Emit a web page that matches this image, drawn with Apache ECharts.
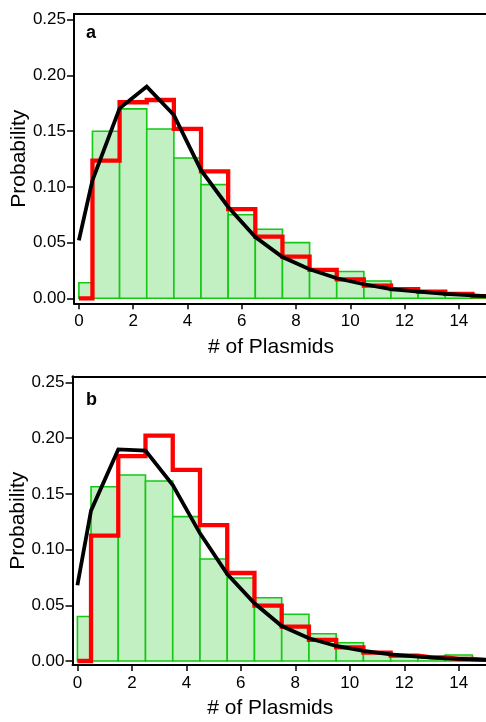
<!DOCTYPE html>
<html>
<head>
<meta charset="utf-8">
<script src="https://cdn.jsdelivr.net/npm/echarts@6/dist/echarts.min.js"></script>
<style>html,body{margin:0;padding:0;background:#fff}#c{width:486px;height:722px}</style>
</head>
<body>
<div id="c"></div>
<script>
// ---- data ----
const bins = [0,1,2,3,4,5,6,7,8,9,10,11,12,13,14,15];
const xTicks = [0,2,4,6,8,10,12,14];
const yTicks = [0,0.05,0.10,0.15,0.20,0.25];
const blackX = [0,0.5,1.5,2.5,3.5,4.5,5.5,6.5,7.5,8.5,9.5,10.5,11.5,12.5,13.5,14.5,15];

const greenA = [0.014,0.150,0.170,0.152,0.126,0.102,0.075,0.062,0.050,0.025,0.024,0.0155,0.0085,0.006,0.0038,0.002];
const redA   = [0,0.1235,0.176,0.178,0.152,0.114,0.080,0.0553,0.0374,0.0255,0.017,0.0113,0.0083,0.006,0.0039,0.002];
const blackA = [0.052,0.106,0.1705,0.190,0.1645,0.115,0.082,0.055,0.037,0.026,0.018,0.0126,0.0083,0.006,0.004,0.0027,0.002];

const greenB = [0.040,0.1565,0.167,0.1616,0.1296,0.0916,0.0745,0.0568,0.0419,0.0245,0.0164,0.008,0.004,0.003,0.0054,0.001];
const redB   = [0,0.1125,0.184,0.2023,0.1715,0.122,0.079,0.0497,0.0308,0.0189,0.0123,0.0075,0.0048,0.0033,0.0018,0.001];
const blackB = [0.068,0.135,0.190,0.1889,0.158,0.1146,0.078,0.0518,0.0314,0.0204,0.0135,0.009,0.006,0.004,0.0024,0.0015,0.001];

const panelLabels = ['a','b'];
const xName = '# of Plasmids';
const yName = 'Probability';

// ---- chart ----
const FONT = 'Liberation Sans, Arial, Helvetica, sans-serif';
const chart = echarts.init(document.getElementById('c'), null, {renderer:'canvas'});

const grids = [
  {left:74, top:14, right:0, height:289.3, outerBoundsMode:'none', containLabel:false},
  {left:72.5, top:376.3, right:0, height:288.7, outerBoundsMode:'none', containLabel:false}
];
const yRanges = [[-0.0045,0.2552],[-0.0036,0.2556]];

const xAxes = [], yAxes = [], series = [];
grids.forEach((g, i) => {
  xAxes.push({
    type:'value', gridIndex:i, position:'bottom', min:-0.18, max:15,
    axisLine:{show:true, onZero:false, lineStyle:{color:'#000', width:2}},
    axisTick:{show:true, customValues:xTicks, length:6, lineStyle:{color:'#000', width:1.5}},
    axisLabel:{show:true, customValues:xTicks, fontSize:17, color:'#000', fontFamily:FONT, margin:10},
    splitLine:{show:false},
    name:xName, nameLocation:'middle', nameGap:33, nameMoveOverlap:false,
    nameTextStyle:{fontSize:21, color:'#000', fontFamily:FONT, padding:[0,18,0,0]}
  });
  xAxes.push({
    type:'value', gridIndex:i, position:'top', min:-0.18, max:15,
    axisLine:{show:true, onZero:false, lineStyle:{color:'#000', width:2}},
    axisTick:{show:false}, axisLabel:{show:false}, splitLine:{show:false}
  });
  yAxes.push({
    type:'value', gridIndex:i, position:'left', min:yRanges[i][0], max:yRanges[i][1],
    axisLine:{show:true, onZero:false, lineStyle:{color:'#000', width:2}},
    axisTick:{show:true, customValues:yTicks, length:7, lineStyle:{color:'#000', width:1.5}},
    axisLabel:{show:true, customValues:yTicks, fontSize:17, color:'#000', fontFamily:FONT, margin:8,
      formatter:v => v.toFixed(2)},
    splitLine:{show:false},
    name:yName, nameLocation:'middle', nameGap:44, nameMoveOverlap:false,
    nameTextStyle:{fontSize:21, color:'#000', fontFamily:FONT}
  });
});

function histSeries(vals, gi){
  return {
    type:'custom', xAxisIndex:gi*2, yAxisIndex:gi,
    data: bins.map((b,k)=>[b, vals[k]]),
    encode:{x:0, y:1},
    renderItem:(params, api) => {
      const x = api.value(0), v = api.value(1);
      const l = x === 0 ? 0 : x - 0.5;
      const p1 = api.coord([l, v]);
      const p2 = api.coord([x + 0.5, 0]);
      const cs = params.coordSys;
      const shape = echarts.graphic.clipRectByRect(
        {x:p1[0], y:p1[1], width:p2[0]-p1[0], height:p2[1]-p1[1]},
        {x:cs.x, y:cs.y, width:cs.width, height:cs.height});
      if (!shape) return;
      return {type:'rect', shape:shape, style:{fill:'#c3f0c3', stroke:'#14c814', lineWidth:1.6}};
    },
    z:1, silent:true
  };
}
function redSeries(vals, gi){
  return {
    type:'line', xAxisIndex:gi*2, yAxisIndex:gi, step:'middle', symbol:'none',
    data: bins.map((b,k)=>[b, vals[k]]),
    lineStyle:{color:'#ff0000', width:4.3, join:'miter', cap:'butt'},
    z:2, silent:true
  };
}
function blackSeries(vals, gi){
  return {
    type:'line', xAxisIndex:gi*2, yAxisIndex:gi, symbol:'none',
    data: blackX.map((x,k)=>[x, vals[k]]),
    lineStyle:{color:'#000', width:3.8, join:'miter'},
    z:3, silent:true
  };
}

series.push(histSeries(greenA,0), redSeries(redA,0), blackSeries(blackA,0));
series.push(histSeries(greenB,1), redSeries(redB,1), blackSeries(blackB,1));

chart.setOption({
  animation:false,
  backgroundColor:'#fff',
  grid:grids,
  xAxis:xAxes,
  yAxis:yAxes,
  series:series,
  graphic:[
    {type:'text', x:86, y:33, style:{text:panelLabels[0], font:'bold 18px '+FONT, fill:'#000', textVerticalAlign:'middle'}},
    {type:'text', x:86, y:400, style:{text:panelLabels[1], font:'bold 18px '+FONT, fill:'#000', textVerticalAlign:'middle'}}
  ]
});
</script>
</body>
</html>
